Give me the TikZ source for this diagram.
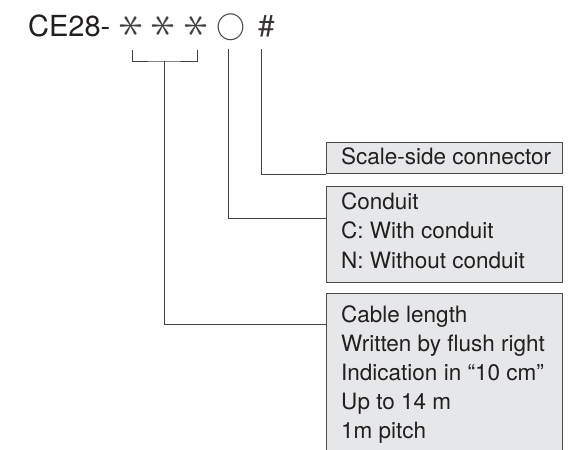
\RequirePackage{fix-cm}
\documentclass[tikz,border=0pt]{standalone}
\usepackage{fontspec}
\setmainfont{TeX Gyre Heros}
\definecolor{boxfill}{HTML}{E6E7E8}
\definecolor{ink}{HTML}{231F20}
\definecolor{edge}{HTML}{4A4A4A}
\begin{document}
\begin{tikzpicture}[x=1pt,y=-1pt,
  box/.style={draw=edge, fill=boxfill, line width=1pt, inner sep=0, anchor=north west, minimum width=236pt},
  conn/.style={draw=ink!85, line width=0.9pt},
  txt/.style={anchor=base west, inner sep=0, text=ink, font=\fontsize{22.5}{26}\selectfont},
  sym/.style={inner sep=0, text=ink!85},
  star/.style={sym, rotate=90, font=\fontsize{50}{54}\selectfont},
]
\clip (0,0) rectangle (576,450);
\useasboundingbox (0,0) rectangle (576,450);
% code line
\node[anchor=base west, inner sep=0, text=ink, font=\fontsize{29}{34}\selectfont] (code) at (28,36) {CE28-};
\node[star] (a1) at (132,26) {$\ast$};
\node[star] (a2) at (164,26) {$\ast$};
\node[star] (a3) at (197,26) {$\ast$};
\node[sym, font=\fontsize{29}{32}\selectfont] (circ) at (231,27) {$\bigcirc$};
\node[anchor=base west, inner sep=0, text=ink!90, font=\fontsize{30}{36}\selectfont] (hash) at (258,36) {\#};
% boxes
\node[box, minimum height=31pt] (scale) at (326,142) {};
\node[box, minimum height=96pt] (cond) at (326,186) {};
\node[box, minimum height=175pt] (cable) at (326,293) {};
% texts
\node[txt] (t1) at (341,164) {Scale-side connector};
\node[txt] (t2) at (341,209) {Conduit};
\node[txt] (t3) at (341,238.5) {C: With conduit};
\node[txt] (t4) at (341,268) {N: Without conduit};
\node[txt] (t5) at (341,322) {Cable length};
\node[txt] (t6) at (341,351) {Written by flush right};
\node[txt] (t7) at (341,380) {Indication in “10 cm”};
\node[txt] (t8) at (341,409) {Up to 14 m};
\node[txt] (t9) at (341,438) {1m pitch};
% connectors
\coordinate (hashtop) at (261,49);
\coordinate (circtop) at (228,49);
\coordinate (bl) at (132,50);
\coordinate (br) at (197,50);
\coordinate (bm) at (164,61);
\draw[conn] (hashtop) |- (scale.south west);
\draw[conn] (circtop) |- ([yshift=-32pt]cond.north west);
\draw[conn] (bl) |- (bm) -| (br);
\draw[conn] (bm) |- ([yshift=-31pt]cable.north west);
\end{tikzpicture}
\end{document}
